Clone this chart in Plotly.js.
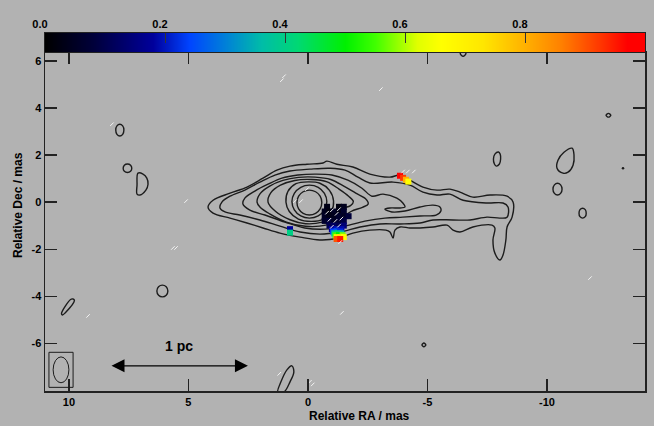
<!DOCTYPE html>
<html><head><meta charset="utf-8">
<script src="https://cdn.plot.ly/plotly-3.0.1.min.js"></script>
<style>html,body{margin:0;padding:0;background:#b2b2b2}#plot{width:654px;height:426px}</style>
</head><body><div id="plot"></div>
<script>
// ---- Contour levels of the jet (RA offset, Dec offset in mas) ----
const c1RA  = [4.18,3.97,3.26,2.55,1.88,1.30,0.75,0.04,-0.63,-0.79,-1.21,-1.88,-2.59,-3.43,-3.85,-4.27,-4.81,-5.40,-5.94,-6.36,-6.90,-7.62,-8.33,-8.58,-8.54,-8.33,-8.28,-8.16,-8.03,-7.82,-7.74,-7.82,-7.70,-6.90,-6.36,-6.07,-5.82,-5.23,-4.69,-4.27,-3.85,-3.64,-3.56,-3.43,-3.26,-2.59,-1.88,-1.21,-0.50,0.33,1.17,1.88,2.55,3.26,3.97,4.18];
const c1Dec = [-0.21,0.08,0.38,0.64,1.02,1.36,1.53,1.61,1.66,1.74,1.61,1.49,1.19,1.06,1.15,0.93,0.64,0.51,0.55,0.42,0.21,0.30,0.25,0.00,-0.64,-1.06,-1.61,-2.25,-2.46,-2.17,-1.61,-1.10,-0.98,-1.06,-1.27,-1.19,-0.98,-1.06,-1.10,-1.10,-1.06,-1.19,-1.53,-1.27,-1.19,-1.19,-1.32,-1.55,-1.61,-1.49,-1.32,-1.10,-0.89,-0.68,-0.47,-0.21];
const c2RA  = [3.68,3.60,3.26,2.64,2.01,1.38,0.75,-0.08,-0.92,-1.55,-2.09,-2.59,-3.56,-4.27,-4.81,-5.40,-5.94,-6.49,-7.49,-8.16,-8.37,-8.33,-8.03,-7.49,-6.78,-6.07,-5.23,-4.69,-3.85,-3.01,-2.18,-1.34,-0.50,0.33,1.17,2.01,2.85,3.47,3.68];
const c2Dec = [-0.25,0.00,0.25,0.51,0.85,1.15,1.32,1.40,1.44,1.36,1.06,0.81,0.85,0.72,0.42,0.30,0.34,0.08,-0.04,-0.04,-0.21,-0.64,-0.68,-0.64,-0.76,-0.76,-0.76,-0.89,-0.93,-0.93,-1.06,-1.27,-1.36,-1.27,-1.02,-0.76,-0.55,-0.42,-0.25];
const c3RA  = [2.72,2.64,2.22,1.67,1.09,0.42,-0.29,-1.00,-1.67,-2.26,-2.68,-3.14,-3.72,-3.97,-4.06,-3.85,-3.43,-3.22,-3.51,-4.06,-4.69,-5.23,-5.52,-5.56,-5.36,-4.69,-3.97,-3.22,-2.38,-1.55,-0.71,0.13,0.96,1.80,2.43,2.72];
const c3Dec = [-0.08,0.17,0.47,0.76,1.02,1.15,1.19,1.15,0.93,0.59,0.25,0.34,0.17,-0.04,-0.21,-0.25,-0.25,-0.30,-0.42,-0.38,-0.21,-0.13,-0.21,-0.38,-0.55,-0.59,-0.64,-0.68,-0.81,-1.02,-1.15,-1.10,-0.85,-0.55,-0.34,-0.08];
const c4RA  = [2.13,2.00,1.60,1.05,0.40,-0.30,-0.95,-1.50,-2.00,-2.40,-2.52,-2.28,-1.80,-1.40,-0.75,0.10,0.90,1.60,2.00,2.13];
const c4Dec = [0.00,0.36,0.68,0.92,1.05,1.06,0.96,0.68,0.38,0.15,-0.08,-0.22,-0.40,-0.68,-0.98,-1.03,-0.85,-0.50,-0.22,0.00];
const c5RA  = [1.67,1.55,1.15,0.55,-0.15,-0.80,-1.30,-1.70,-1.90,-1.78,-1.38,-1.10,-0.60,0.10,0.75,1.35,1.67];
const c5Dec = [0.00,0.40,0.72,0.92,0.96,0.86,0.55,0.25,0.02,-0.15,-0.30,-0.60,-0.85,-0.92,-0.75,-0.40,0.00];
const c6RA  = [0.92,0.84,0.50,0.00,-0.50,-0.90,-1.07,-0.98,-0.65,-0.15,0.40,0.78,0.92];
const c6Dec = [0.00,0.45,0.78,0.86,0.80,0.50,0.05,-0.40,-0.72,-0.82,-0.72,-0.40,0.00];
const c7RA  = [0.67,0.57,0.30,-0.06,-0.43,-0.69,-0.79,-0.69,-0.43,-0.06,0.30,0.57,0.67];
const c7Dec = [0.02,0.37,0.63,0.72,0.63,0.37,0.02,-0.33,-0.59,-0.68,-0.59,-0.33,0.02];
const c8RA  = [0.46,0.39,0.20,-0.06,-0.32,-0.51,-0.58,-0.51,-0.32,-0.06,0.20,0.39,0.46];
const c8Dec = [-0.02,0.25,0.44,0.51,0.44,0.25,-0.02,-0.29,-0.48,-0.55,-0.48,-0.29,-0.02];

// ---- Isolated lowest-level contour islands ----
const island1RA  = [7.87,7.75,7.70,7.75,7.87,7.99,8.04,7.99,7.87];
const island1Dec = [3.31,3.24,3.06,2.88,2.81,2.88,3.06,3.24,3.31];
const island2RA  = [7.55,7.42,7.37,7.42,7.55,7.68,7.73,7.68,7.55];
const island2Dec = [1.62,1.57,1.44,1.31,1.26,1.31,1.44,1.57,1.62];
const island3RA  = [7.11,6.90,6.74,6.69,6.78,7.03,7.15,7.15,7.11];
const island3Dec = [1.23,1.19,1.02,0.76,0.51,0.30,0.34,0.72,1.23];
const island4RA  = [6.09,5.93,5.86,5.93,6.09,6.25,6.32,6.25,6.09];
const island4Dec = [-3.53,-3.60,-3.78,-3.96,-4.03,-3.96,-3.78,-3.60,-3.53];
const island5RA  = [9.83,9.77,10.15,10.27,10.31,9.93,9.83];
const island5Dec = [-4.12,-4.18,-4.70,-4.80,-4.74,-4.14,-4.12];
const island6RA  = [-11.05,-11.13,-11.09,-10.88,-10.67,-10.42,-10.46,-10.71,-11.05];
const island6Dec = [2.29,2.00,1.57,1.27,1.23,1.44,1.78,2.12,2.29];
const island7RA  = [-10.44,-10.31,-10.25,-10.31,-10.44,-10.57,-10.63,-10.57,-10.44];
const island7Dec = [0.80,0.73,0.55,0.37,0.30,0.37,0.55,0.73,0.80];
const island8RA  = [-11.49,-11.38,-11.34,-11.38,-11.49,-11.60,-11.64,-11.60,-11.49];
const island8Dec = [-0.26,-0.32,-0.47,-0.62,-0.68,-0.62,-0.47,-0.32,-0.26];
const island9RA  = [-12.57,-12.67,-12.57,-12.47,-12.57];
const island9Dec = [3.77,3.69,3.61,3.69,3.77];
const island10RA  = [-7.97,-7.82,-7.76,-7.80,-7.88,-8.01,-8.06,-8.04,-7.97];
const island10Dec = [2.13,2.04,1.83,1.62,1.53,1.62,1.83,2.04,2.13];
const island11RA  = [-6.49,-6.37,-6.49,-6.61,-6.49];
const island11Dec = [6.44,6.32,6.20,6.32,6.44];
const island12RA  = [0.67,0.59,0.75,1.00,1.26,1.13,0.88,0.67];
const island12Dec = [-6.96,-7.22,-7.64,-8.07,-8.07,-7.64,-7.13,-6.96];
const island13RA  = [-4.85,-4.93,-4.85,-4.77,-4.85];
const island13Dec = [-5.99,-6.07,-6.15,-6.07,-5.99];
const dotRA = [-13.18], dotDec = [1.44];

// ---- Colour-coded pixels (value 0..1) ----
const pixRA  = [-0.8,-1.3,-1.5, -0.7,-0.9,-1.1,-1.3,-1.5, -0.7,-0.9,-1.1,-1.3,-1.5,-1.7, -0.7,-0.9,-1.1,-1.3,-1.5, -0.9,-1.1,-1.3,-1.5, -1.0,-1.2,-1.4,
                -1.05,-1.2,-1.35, -1.1,-1.25,-1.4, -1.15,-1.3,-1.45, -1.2,-1.35,-1.5, -1.2,-1.35,
                0.75,0.75,
                -3.85,-3.98,-4.10,-4.20];
const pixDec = [-0.2,-0.2,-0.2, -0.4,-0.4,-0.4,-0.4,-0.4, -0.6,-0.6,-0.6,-0.6,-0.6,-0.6, -0.8,-0.8,-0.8,-0.8,-0.8, -1.0,-1.0,-1.0,-1.0, -1.15,-1.15,-1.15,
                -1.25,-1.25,-1.25, -1.33,-1.33,-1.33, -1.41,-1.41,-1.41, -1.49,-1.49,-1.49, -1.57,-1.57,
                -1.15,-1.30,
                1.12,1.03,0.95,0.87];
const pixVal = [0.03,0.02,0.04, 0.04,0.02,0.05,0.03,0.06, 0.05,0.03,0.04,0.06,0.05,0.08, 0.06,0.08,0.05,0.07,0.09, 0.10,0.12,0.10,0.14, 0.18,0.20,0.19,
                0.24,0.26,0.22, 0.38,0.42,0.36, 0.55,0.50,0.58, 0.70,0.72,0.66, 0.90,0.95,
                0.18,0.40,
                0.97,0.92,0.80,0.66];

// ---- Polarisation sticks (white) ----
const vecRA  = [-0.8,-1.0,-1.2,-0.9,-1.15,-1.4,-1.3,-1.0,-1.35, -3.98,-4.18,-4.43, 0.04,0.54,0.29, 5.10,5.65,5.52, 9.20,-1.42,-11.8,8.20,-3.05,1.00,1.09,-0.08,-0.2,1.2,-1.3];
const vecDec = [-0.45,-0.35,-0.50,-0.75,-0.80,-0.70,-1.00,-1.05,-1.70, 1.30,1.30,1.30, 0.55,0.04,0.04, 0.04,-1.95,-1.95, -4.84,-4.71,-3.23,3.31,4.80,5.35,5.18,-7.64,-7.75,-7.3,-0.3];

// ---- Beam and scale bar ----
const beamCenter = [10.33, -7.13];
const beamSize = [0.66, 1.10];
const beamBox = [1.01, 1.49];
const scaleBarRA = [8.28, 2.51];
const scaleBarDec = -6.96;
const scaleLabel = '1 pc';

// ---- Axis ticks / colour bar ----
const raTicks = [10, 5, 0, -5, -10];
const raLabels = ['10', '5', '0', '-5', '-10'];
const decTicks = [6, 4, 2, 0, -2, -4, -6];
const decLabels = ['6', '4', '2', '0', '-2', '-4', '-6'];
const cbarTicks = [0, 0.2, 0.4, 0.6, 0.8];
const cbarLabels = ['0.0', '0.2', '0.4', '0.6', '0.8'];
const cbarLevels = [0,0.05,0.1,0.15,0.2,0.25,0.3,0.35,0.4,0.45,0.5,0.55,0.6,0.65,0.7,0.75,0.8,0.85,0.9,0.95,1];

const jetScale = [[0,'#000000'],[0.08,'#00003a'],[0.18,'#00009c'],[0.24,'#0044ff'],[0.30,'#0080d8'],[0.36,'#00bca8'],[0.42,'#00d874'],[0.50,'#00f000'],[0.55,'#40ff00'],[0.62,'#e0ff00'],[0.66,'#ffff00'],[0.73,'#ffe600'],[0.80,'#ffb000'],[0.86,'#ff8000'],[0.93,'#ff3000'],[0.97,'#ff0000'],[1,'#ff0000']];

const font = 'Liberation Sans, Arial, Helvetica, sans-serif';
const lineCol = '#1c1c1c';
const traces = [];
const contours = [[c1RA,c1Dec],[c2RA,c2Dec],[c3RA,c3Dec],[c4RA,c4Dec],[c5RA,c5Dec],[c6RA,c6Dec],[c7RA,c7Dec],[c8RA,c8Dec],
  [island1RA,island1Dec],[island2RA,island2Dec],[island3RA,island3Dec],[island4RA,island4Dec],[island5RA,island5Dec],
  [island6RA,island6Dec],[island7RA,island7Dec],[island8RA,island8Dec],[island9RA,island9Dec],[island10RA,island10Dec],
  [island11RA,island11Dec],[island12RA,island12Dec],[island13RA,island13Dec]];
contours.forEach(([x,y]) => traces.push({type:'scatter', mode:'lines', x:x, y:y, xaxis:'x', yaxis:'y',
  line:{color:lineCol, width:1.4, shape:'spline', smoothing:1}, hoverinfo:'skip', showlegend:false}));
traces.push({type:'scatter', mode:'markers', x:dotRA, y:dotDec, marker:{color:lineCol, size:2.5}, showlegend:false});
traces.push({type:'scatter', mode:'markers', x:pixRA, y:pixDec, showlegend:false,
  marker:{symbol:'square', size:6, color:pixVal, colorscale:jetScale, cmin:0, cmax:1, line:{width:0}}});
traces.push({type:'scatter', mode:'markers', x:vecRA, y:vecDec, showlegend:false,
  marker:{symbol:'line-ne', size:3.5, color:'white', line:{color:'#f4f4f4', width:1}}});
// colour bar drawn as a strip
traces.push({type:'heatmap', x:cbarLevels, y:[0.5], z:[cbarLevels], xaxis:'x2', yaxis:'y2',
  colorscale:jetScale, zmin:0, zmax:1, zsmooth:'best', showscale:false, hoverinfo:'skip'});

const topFrac = 339/358;
const layout = {
  width:654, height:426,
  margin:{l:45, r:9, t:33, b:35},
  paper_bgcolor:'#b2b2b2', plot_bgcolor:'#b2b2b2',
  font:{family:font, color:'#000'},
  showlegend:false,
  xaxis:{domain:[0,1], anchor:'y', range:[11.0,-14.1], tickvals:raTicks, ticktext:raLabels,
    ticks:'inside', ticklen:12, tickwidth:1.2, tickcolor:'#222', showline:true, linecolor:'#222', linewidth:1.5,
    mirror:'ticks', showgrid:false, zeroline:false, tickfont:{size:11, weight:'bold', family:font}},
  yaxis:{domain:[0,topFrac], anchor:'x', range:[-8.03,6.38], tickvals:decTicks, ticktext:decLabels,
    ticks:'inside', ticklen:12, tickwidth:1.2, tickcolor:'#222', showline:true, linecolor:'#222', linewidth:1.5,
    mirror:'ticks', showgrid:false, zeroline:false, tickfont:{size:11, weight:'bold', family:font}},
  xaxis2:{domain:[0,1], anchor:'y2', range:[0,1], side:'top', tickvals:cbarTicks, ticktext:cbarLabels,
    ticks:'inside', ticklen:10, tickcolor:'#333', tickwidth:1, ticklabelshift:-5, layer:'above traces',
    showline:true, mirror:true, linecolor:'#222', linewidth:1, showgrid:false, zeroline:false,
    tickfont:{size:11, weight:'bold', family:font}},
  yaxis2:{domain:[topFrac,1], anchor:'x2', range:[0,1], showticklabels:false, ticks:'',
    showline:true, mirror:true, linecolor:'#222', linewidth:1, showgrid:false, zeroline:false},
  shapes:[
    {type:'rect', xref:'x', yref:'y', x0:beamCenter[0]+beamBox[0]/2, x1:beamCenter[0]-beamBox[0]/2,
      y0:beamCenter[1]+beamBox[1]/2, y1:beamCenter[1]-beamBox[1]/2, line:{color:lineCol, width:1}},
    {type:'circle', xref:'x', yref:'y', x0:beamCenter[0]+beamSize[0]/2, x1:beamCenter[0]-beamSize[0]/2,
      y0:beamCenter[1]+beamSize[1]/2, y1:beamCenter[1]-beamSize[1]/2, line:{color:lineCol, width:1}}
  ],
  annotations:[
    {xref:'x', yref:'y', axref:'x', ayref:'y', x:scaleBarRA[1], y:scaleBarDec, ax:scaleBarRA[0], ay:scaleBarDec,
      text:'', showarrow:true, arrowside:'end+start', arrowhead:2, startarrowhead:2, arrowsize:2, startarrowsize:2,
      arrowwidth:1.3, arrowcolor:'#000'},
    {xref:'x', yref:'y', x:(scaleBarRA[0]+scaleBarRA[1])/2, y:scaleBarDec, yshift:20, text:'<b>'+scaleLabel+'</b>',
      showarrow:false, font:{size:14, family:font, color:'#000'}},
    {xref:'paper', yref:'paper', x:(359-45)/600, y:-0.045, yanchor:'top', text:'<b>Relative RA / mas</b>',
      showarrow:false, font:{size:12, family:font, color:'#000'}},
    {xref:'paper', yref:'paper', x:-0.045, xanchor:'center', y:(391-205)/358, text:'<b>Relative Dec / mas</b>', textangle:-90,
      showarrow:false, font:{size:12, family:font, color:'#000'}}
  ]
};
Plotly.newPlot('plot', traces, layout, {staticPlot:true});
</script></body></html>
